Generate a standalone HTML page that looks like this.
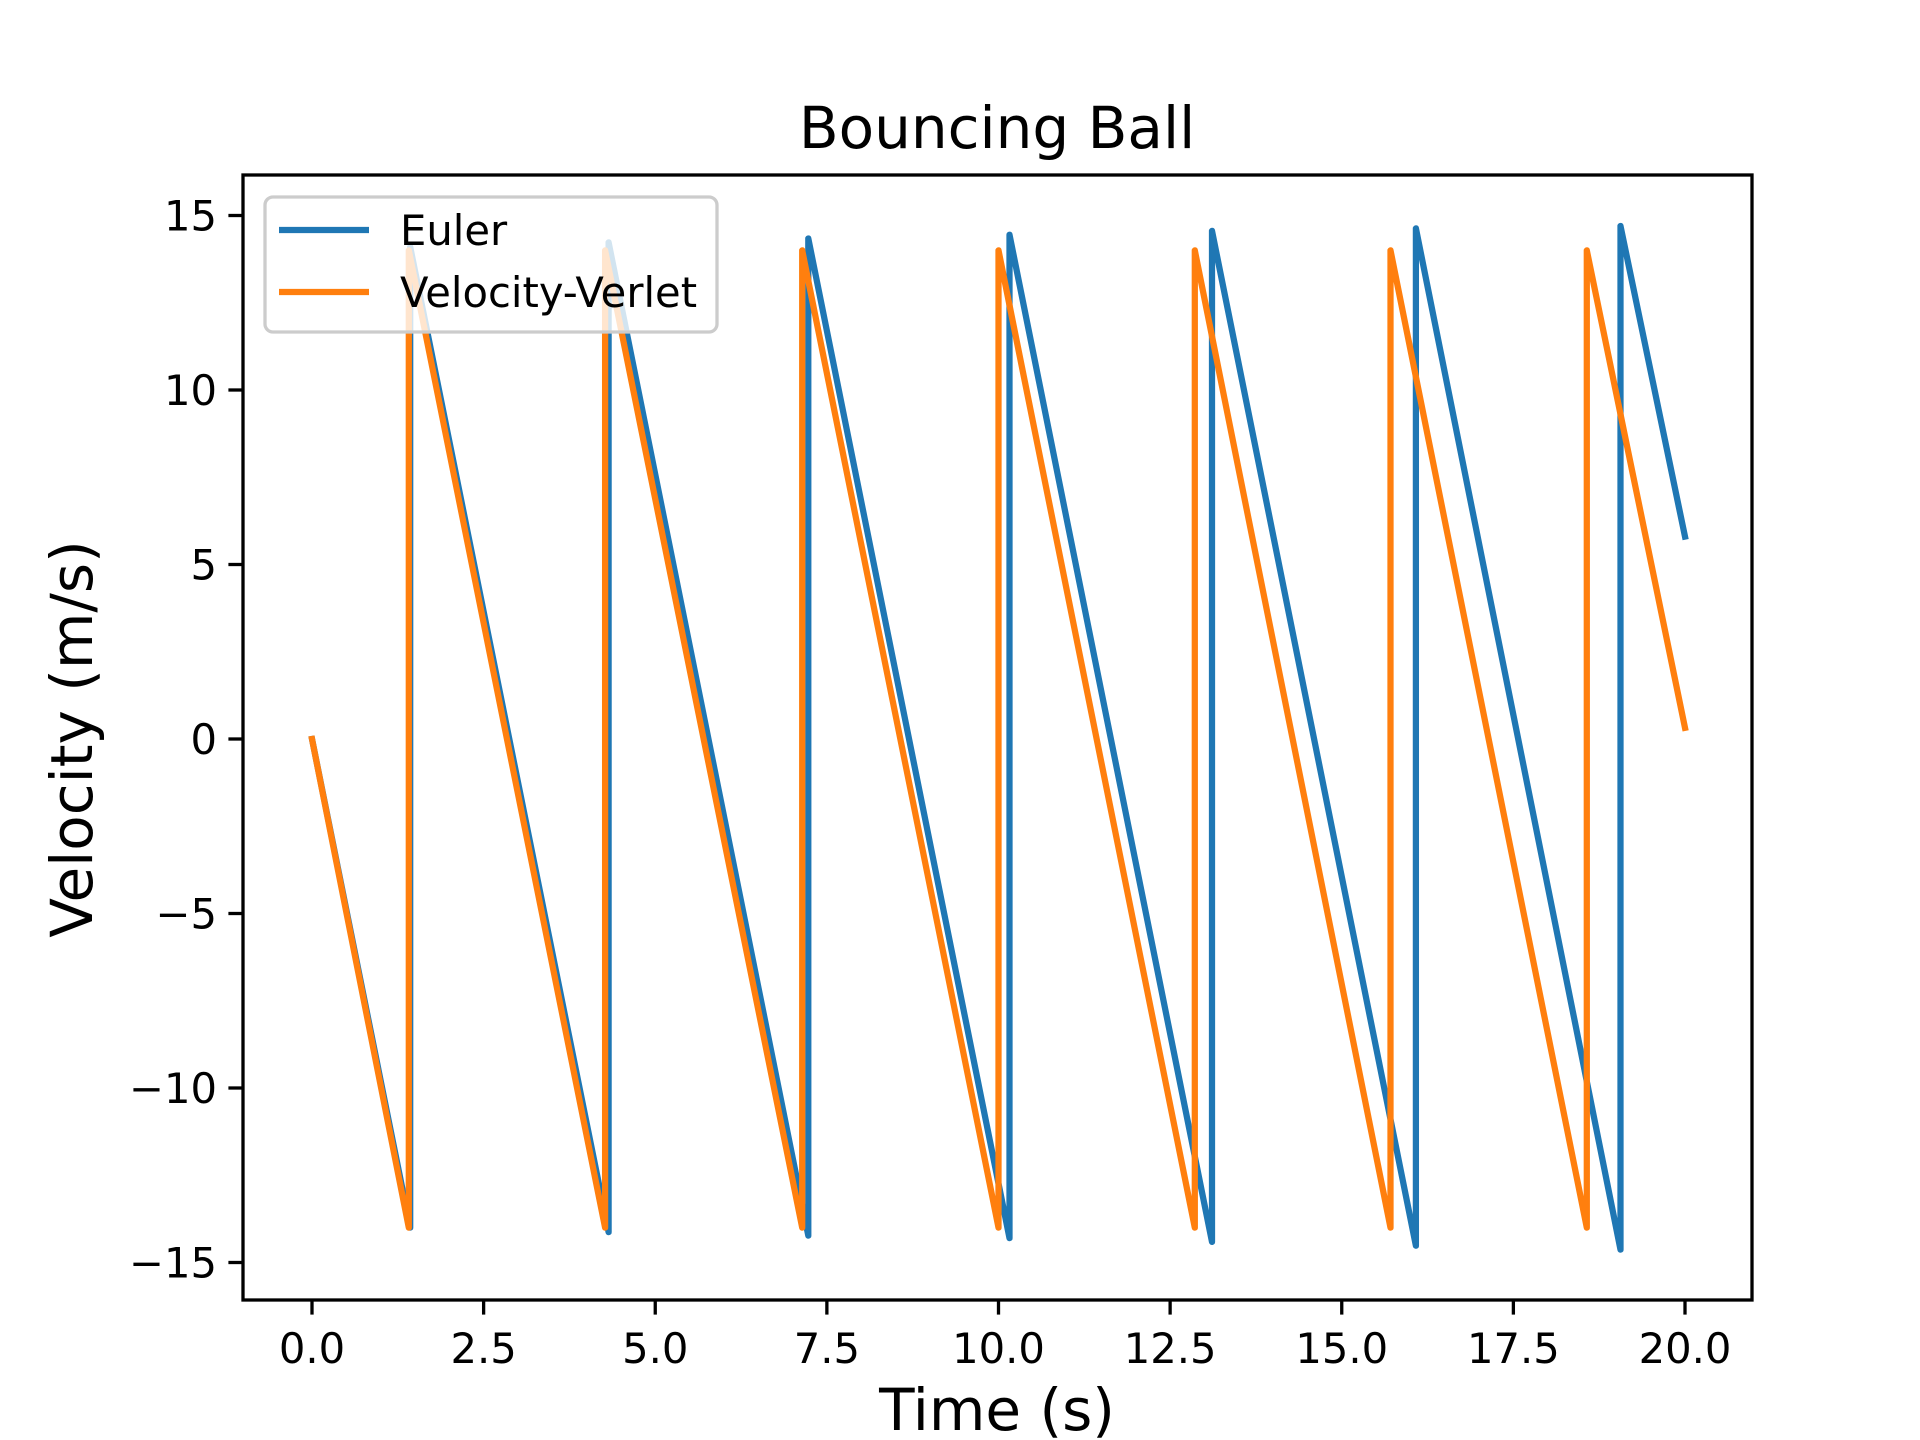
<!DOCTYPE html>
<html><head><meta charset="utf-8"><style>
html,body{margin:0;padding:0;background:#fff;}
svg{display:block;font-family:"Liberation Sans","DejaVu Sans",sans-serif;}
</style></head><body>
<svg id="chart" width="1920" height="1440" viewBox="0 0 1920 1440" xmlns="http://www.w3.org/2000/svg">
<rect width="1920" height="1440" fill="#fff"/>
<text x="997" y="148" font-size="58" text-anchor="middle" font-family="DejaVu Sans, sans-serif">Bouncing Ball</text>
<text x="997" y="1430" font-size="58" text-anchor="middle" font-family="DejaVu Sans, sans-serif">Time (s)</text>
<text transform="translate(92,739) rotate(-90)" font-size="58" text-anchor="middle" font-family="DejaVu Sans, sans-serif">Velocity (m/s)</text>
<g id="plot"></g>
</svg>
<script>
const xTicks=[0,2.5,5,7.5,10,12.5,15,17.5,20];
const xTickLabels=["0.0","2.5","5.0","7.5","10.0","12.5","15.0","17.5","20.0"];
const yTicks=[-15,-10,-5,0,5,10,15];
const yTickLabels=["\u221215","\u221210","\u22125","0","5","10","15"];
const eulerT=[0,1.43,1.43,4.32,4.32,7.23,7.23,10.16,10.16,13.11,13.11,16.08,16.08,19.06,19.06,20];
const eulerV=[0,-14.0,14.1,-14.13,14.23,-14.23,14.34,-14.3,14.45,-14.41,14.56,-14.52,14.63,-14.63,14.7,5.8];
const verletT=[0,1.41,1.41,4.27,4.27,7.14,7.14,10.0,10.0,12.86,12.86,15.71,15.71,18.57,18.57,20];
const verletV=[0,-14.0,14.0,-14.0,14.0,-14.0,14.0,-14.0,14.0,-14.0,14.0,-14.0,14.0,-14.0,14.0,0.32];

const NS="http://www.w3.org/2000/svg";
const L=243,R=1752,T=175,B=1300;
const xs=t=>312+(t-0)*(1685-312)/20;
const ys=v=>739-v*(1263-216)/30;
const g=document.getElementById('plot');
function el(tag,attrs,parent){const e=document.createElementNS(NS,tag);for(const k in attrs)e.setAttribute(k,attrs[k]);(parent||g).appendChild(e);return e;}

function series(ts,vs,color,name){
  const d=ts.map((t,i)=>(i?'L':'M')+xs(t).toFixed(1)+' '+ys(vs[i]).toFixed(1)).join(' ');
  const p=el('path',{d:d,fill:'none',stroke:color,'stroke-width':6.25,'stroke-linejoin':'round','stroke-linecap':'square'});
  
  
}
const clip=el('clipPath',{id:'clipA'});el('rect',{x:L,y:T,width:R-L,height:B-T},clip);
const sg=el('g',{'clip-path':'url(#clipA)'});
const gSave=g;
function seriesIn(ts,vs,color,name){
  const d=ts.map((t,i)=>(i?'L':'M')+xs(t).toFixed(1)+' '+ys(vs[i]).toFixed(1)).join(' ');
  const p=el('path',{d:d,fill:'none',stroke:color,'stroke-width':6.25,'stroke-linejoin':'round','stroke-linecap':'square'},sg);
  
  
}
seriesIn(eulerT,eulerV,'#1f77b4','euler-line');
seriesIn(verletT,verletV,'#ff7f0e','velocity-verlet-line');

// ticks
xTicks.forEach((t,i)=>{
  const x=xs(t);
  const tk=el('line',{x1:x,x2:x,y1:B,y2:B+14.6,stroke:'#000','stroke-width':3.3});
  
  
  const tx=el('text',{x:x,y:B+63,'font-size':41.7,'text-anchor':'middle','font-family':'DejaVu Sans, sans-serif'});
  tx.textContent=xTickLabels[i];
  
  
});
yTicks.forEach((v,i)=>{
  const y=ys(v);
  const tk=el('line',{x1:L-14.6,x2:L,y1:y,y2:y,stroke:'#000','stroke-width':3.3});
  
  
  const tx=el('text',{x:L-26,y:y+15,'font-size':41.7,'text-anchor':'end','font-family':'DejaVu Sans, sans-serif'});
  tx.textContent=yTickLabels[i];
  
  
});
const frame=el('rect',{x:L,y:T,width:R-L,height:B-T,fill:'none',stroke:'#000','stroke-width':3.3});



// legend
const lg=el('g',{});


el('rect',{x:265,y:197,width:452,height:135,rx:8,fill:'#fff','fill-opacity':0.8,stroke:'#cccccc','stroke-width':3.3},lg);
const e1=el('line',{x1:279,x2:369,y1:230,y2:230,stroke:'#1f77b4','stroke-width':6.25},lg);


const t1=el('text',{x:400,y:245,'font-size':41.7,'font-family':'DejaVu Sans, sans-serif'},lg);t1.textContent='Euler';
const e2=el('line',{x1:279,x2:369,y1:292,y2:292,stroke:'#ff7f0e','stroke-width':6.25},lg);


const t2=el('text',{x:400,y:307,'font-size':41.7,'font-family':'DejaVu Sans, sans-serif'},lg);t2.textContent='Velocity-Verlet';
</script>
</body></html>
